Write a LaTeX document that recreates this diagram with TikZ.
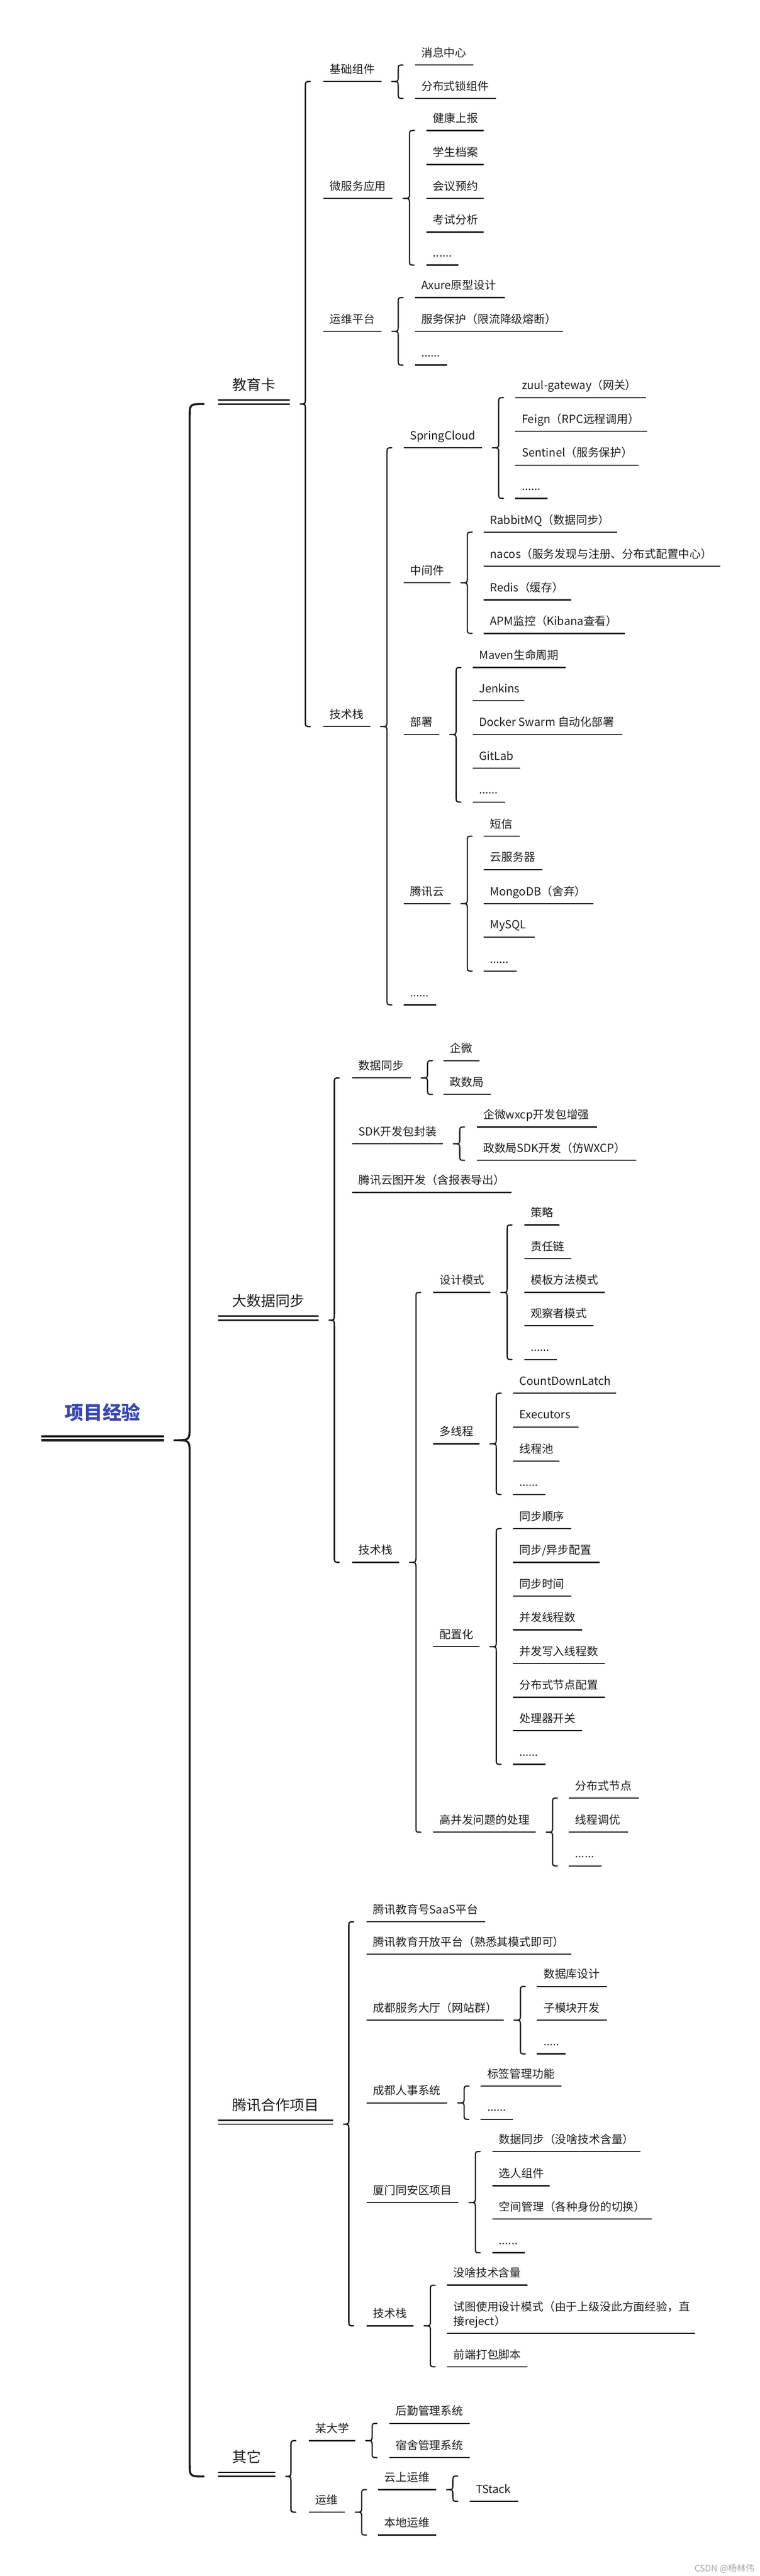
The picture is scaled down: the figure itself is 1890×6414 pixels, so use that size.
\documentclass[tikz,border=0pt]{standalone}
\usepackage{fontspec}
\setmainfont{Noto Sans CJK SC}
\usetikzlibrary{calc}
\definecolor{ln}{HTML}{1A1A1A}
\definecolor{txt}{HTML}{1E1E1E}
\definecolor{rootblue}{RGB}{56,72,176}
\definecolor{wmgray}{HTML}{A8A8A8}
\tikzset{
  uline/.style={draw=ln, line width=1.5pt},
  dline/.style={draw=ln, line width=1.75pt},
  rline/.style={draw=ln, line width=2.6pt},
  lv/.style={anchor=south west, inner xsep=8pt, inner ysep=0pt, text depth=10pt,
    font=\fontsize{14pt}{18pt}\selectfont, text=txt,
    append after command={(\tikzlastnode.south west) edge[uline] (\tikzlastnode.south east)}},
  topic/.style={anchor=south west, inner xsep=17.5pt, inner ysep=0pt, text depth=17pt,
    font=\fontsize{18pt}{22pt}\selectfont, text=txt,
    append after command={(\tikzlastnode.south west) edge[dline] (\tikzlastnode.south east)
      ($(\tikzlastnode.south west)+(0,-10)$) edge[dline] ($(\tikzlastnode.south east)+(0,-10)$)}},
  rootnode/.style={anchor=south west, inner xsep=29pt, inner ysep=0pt, text depth=25.5pt,
    font=\bfseries\fontsize{23.5pt}{28pt}\selectfont, text=rootblue,
    append after command={(\tikzlastnode.south west) edge[rline] (\tikzlastnode.south east)
      ($(\tikzlastnode.south west)+(0,-10)$) edge[rline] ($(\tikzlastnode.south east)+(0,-10)$)}},
  brace/.style={draw=ln, line width=1.5pt, line cap=round, line join=round},
  tbrace/.style={draw=ln, line width=1.7pt, line cap=round, line join=round},
  rbrace/.style={draw=ln, line width=2.5pt, line cap=round, line join=round},
}
% leaf/branch node: name, x left, y line, x right, text
\newcommand\mm[5]{\pgfmathsetmacro\mmw{(#4-#2-32)*0.5}\node[lv] (#1) at (#2,#3) {\makebox[\mmw pt][l]{#5}};}
% brace: style, tip, top, bottom, tip->vertical, hook, radius
\newcommand\mmbrace[7]{\draw[#1] let \p1=#2, \p2=#3, \p3=#4 in
  (\x1+#5+#6,\y2) .. controls (\x1+#5,\y2) .. (\x1+#5,\y2-#7)
  -- (\x1+#5,\y1+#7) .. controls (\x1+#5,\y1) .. (\x1,\y1)
  .. controls (\x1+#5,\y1) .. (\x1+#5,\y1-#7)
  -- (\x1+#5,\y3+#7) .. controls (\x1+#5,\y3) .. (\x1+#5+#6,\y3);}
\newcommand\mmbr[3]{\mmbrace{brace}{($(#1.south east)+(26,0)$)}{(#2.south west)}{(#3.south west)}{8pt}{6pt}{6.5pt}}
\newcommand\mmbrt[3]{\mmbrace{tbrace}{($(#1.south east)+(26,0)$)}{(#2.south west)}{(#3.south west)}{6.5pt}{6pt}{8pt}}
\begin{document}
\begin{tikzpicture}[x=0.5pt, y=-0.5pt]
\fill[white] (0,0) rectangle (1890,6414);
\useasboundingbox (0,0) rectangle (1890,6414);

% root and topics
\node[rootnode] (root) at (103,3586) {项目经验};
\node[topic] (jyk) at (542,1006) {教育卡};
\node[topic] (dsj) at (542,3287) {大数据同步};
\node[topic] (txhz) at (542,5289) {腾讯合作项目};
\node[topic] (qt) at (542,6166) {其它};

% ===== 教育卡 =====
\mm{jc}{804}{203}{948}{基础组件}
\mm{jc1}{1032}{162}{1177}{消息中心}
\mm{jc2}{1032}{245}{1233}{分布式锁组件}
\mm{wfw}{804}{494}{976}{微服务应用}
\mm{wfw1}{1061}{325}{1203}{健康上报}
\mm{wfw2}{1061}{410}{1203}{学生档案}
\mm{wfw3}{1061}{494}{1203}{会议预约}
\mm{wfw4}{1061}{578}{1203}{考试分析}
\mm{wfw5}{1061}{660}{1140}{......}
\mm{ywpt}{804}{825}{948}{运维平台}
\mm{yw1}{1032}{741}{1255}{Axure原型设计}
\mm{yw2}{1032}{825}{1400}{服务保护（限流降级熔断）}
\mm{yw3}{1032}{909}{1112}{......}
\mm{jsz}{804}{1809}{920}{技术栈}
\mm{sc}{1004}{1115}{1198}{SpringCloud}
\mm{sc1}{1282}{990}{1606}{zuul-gateway（网关）}
\mm{sc2}{1282}{1074}{1609}{Feign（RPC远程调用）}
\mm{sc3}{1282}{1158}{1588}{Sentinel（服务保护）}
\mm{sc4}{1282}{1241}{1362}{......}
\mm{zjj}{1004}{1451}{1120}{中间件}
\mm{zjj1}{1203}{1325}{1535}{RabbitMQ（数据同步）}
\mm{zjj2}{1203}{1410}{1791}{nacos（服务发现与注册、分布式配置中心）}
\mm{zjj3}{1203}{1494}{1420}{Redis（缓存）}
\mm{zjj4}{1203}{1577}{1554}{APM监控（Kibana查看）}
\mm{bs}{1004}{1829}{1092}{部署}
\mm{bs1}{1176}{1662}{1407}{Maven生命周期}
\mm{bs2}{1176}{1745}{1304}{Jenkins}
\mm{bs3}{1176}{1829}{1547}{Docker Swarm 自动化部署}
\mm{bs4}{1176}{1913}{1294}{GitLab}
\mm{bs5}{1176}{1997}{1256}{......}
\mm{txy}{1004}{2250}{1120}{腾讯云}
\mm{txy1}{1203}{2082}{1292}{短信}
\mm{txy2}{1203}{2165}{1349}{云服务器}
\mm{txy3}{1203}{2250}{1476}{MongoDB（舍弃）}
\mm{txy4}{1203}{2333}{1329}{MySQL}
\mm{txy5}{1203}{2418}{1285}{......}
\mm{jszm}{1004}{2502}{1084}{......}

% ===== 大数据同步 =====
\mm{sjtb}{876}{2684}{1021}{数据同步}
\mm{sjtb1}{1103}{2641}{1192}{企微}
\mm{sjtb2}{1103}{2725}{1220}{政数局}
\mm{sdk}{876}{2848}{1101}{SDK开发包封装}
\mm{sdk1}{1186}{2806}{1485}{企微wxcp开发包增强}
\mm{sdk2}{1186}{2889}{1582}{政数局SDK开发（仿WXCP）}
\mm{txyt}{876}{2969}{1272}{腾讯云图开发（含报表导出）}
\mm{jsz2}{876}{3890}{992}{技术栈}
\mm{sjms}{1077}{3218}{1219}{设计模式}
\mm{sjms1}{1304}{3050}{1391}{策略}
\mm{sjms2}{1304}{3134}{1420}{责任链}
\mm{sjms3}{1304}{3218}{1504}{模板方法模式}
\mm{sjms4}{1304}{3301}{1476}{观察者模式}
\mm{sjms5}{1304}{3385}{1384}{......}
\mm{dxc}{1077}{3595}{1192}{多线程}
\mm{dxc1}{1276}{3469}{1532}{CountDownLatch}
\mm{dxc2}{1276}{3553}{1438}{Executors}
\mm{dxc3}{1276}{3638}{1391}{线程池}
\mm{dxc4}{1276}{3721}{1356}{......}
\mm{pzh}{1077}{4100}{1192}{配置化}
\mm{pzh1}{1276}{3806}{1420}{同步顺序}
\mm{pzh2}{1276}{3890}{1491}{同步/异步配置}
\mm{pzh3}{1276}{3974}{1420}{同步时间}
\mm{pzh4}{1276}{4058}{1448}{并发线程数}
\mm{pzh5}{1276}{4142}{1504}{并发写入线程数}
\mm{pzh6}{1276}{4226}{1504}{分布式节点配置}
\mm{pzh7}{1276}{4309}{1448}{处理器开关}
\mm{pzh8}{1276}{4393}{1356}{......}
\mm{gbf}{1077}{4562}{1332}{高并发问题的处理}
\mm{gbf1}{1415}{4477}{1588}{分布式节点}
\mm{gbf2}{1415}{4562}{1561}{线程调优}
\mm{gbf3}{1415}{4646}{1496}{......}

% ===== 腾讯合作项目 =====
\mm{tx1}{912}{4785}{1206}{腾讯教育号SaaS平台}
\mm{tx2}{912}{4866}{1420}{腾讯教育开放平台（熟悉其模式即可）}
\mm{cdfw}{912}{5030}{1252}{成都服务大厅（网站群）}
\mm{cdfw1}{1336}{4946}{1509}{数据库设计}
\mm{cdfw2}{1336}{5030}{1509}{子模块开发}
\mm{cdfw3}{1336}{5114}{1407}{.....}
\mm{cdrs}{912}{5236}{1112}{成都人事系统}
\mm{cdrs1}{1196}{5194}{1396}{标签管理功能}
\mm{cdrs2}{1196}{5277}{1276}{......}
\mm{xm}{912}{5484}{1140}{厦门同安区项目}
\mm{xm1}{1225}{5357}{1593}{数据同步（没啥技术含量）}
\mm{xm2}{1225}{5442}{1367}{选人组件}
\mm{xm3}{1225}{5525}{1620}{空间管理（各种身份的切换）}
\mm{xm4}{1225}{5609}{1305}{......}
\mm{jsz3}{912}{5791}{1028}{技术栈}
\mm{jsz31}{1112}{5690}{1312}{没啥技术含量}
\node[lv] (jsz32) at (1112,5810) {\parbox[b]{292.5pt}{\baselineskip=18pt 试图使用设计模式（由于上级没此方面经验，直\\接reject）}};
\mm{jsz33}{1112}{5893}{1312}{前端打包脚本}

% ===== 其它 =====
\mm{mdx}{768}{6077}{883}{某大学}
\mm{mdx1}{968}{6034}{1168}{后勤管理系统}
\mm{mdx2}{968}{6119}{1168}{宿舍管理系统}
\mm{yw}{768}{6255}{857}{运维}
\mm{ysyw}{940}{6199}{1084}{云上运维}
\mm{tstack}{1168}{6228}{1289}{TStack}
\mm{bdyw}{940}{6312}{1084}{本地运维}

% ===== braces =====
\mmbrace{rbrace}{($(root.south east)+(26,0)$)}{(jyk.south west)}{(qt.south west)}{19pt}{17.5pt}{17pt}
\mmbrt{jyk}{jc}{jsz}
\mmbrt{dsj}{sjtb}{jsz2}
\mmbrt{txhz}{tx1}{jsz3}
\mmbrt{qt}{mdx}{yw}
\mmbr{jc}{jc1}{jc2}
\mmbr{wfw}{wfw1}{wfw5}
\mmbr{ywpt}{yw1}{yw3}
\mmbr{jsz}{sc}{jszm}
\mmbr{sc}{sc1}{sc4}
\mmbr{zjj}{zjj1}{zjj4}
\mmbr{bs}{bs1}{bs5}
\mmbr{txy}{txy1}{txy5}
\mmbr{sjtb}{sjtb1}{sjtb2}
\mmbr{sdk}{sdk1}{sdk2}
\mmbr{jsz2}{sjms}{gbf}
\mmbr{sjms}{sjms1}{sjms5}
\mmbr{dxc}{dxc1}{dxc4}
\mmbr{pzh}{pzh1}{pzh8}
\mmbr{gbf}{gbf1}{gbf3}
\mmbr{cdfw}{cdfw1}{cdfw3}
\mmbr{cdrs}{cdrs1}{cdrs2}
\mmbr{xm}{xm1}{xm4}
\mmbr{jsz3}{jsz31}{jsz33}
\mmbr{mdx}{mdx1}{mdx2}
\mmbr{yw}{ysyw}{bdyw}
\mmbrace{brace}{($(ysyw.south east)+(26,0)$)}{($(ysyw.south east)+(0,-34)$)}{(tstack.south west)}{8pt}{6pt}{6.5pt}

% watermark
\node[anchor=east, inner sep=0pt, text=wmgray, font=\fontsize{11pt}{13pt}\selectfont] (wm) at (1878,6396) {CSDN @杨林伟};
\end{tikzpicture}
\end{document}
